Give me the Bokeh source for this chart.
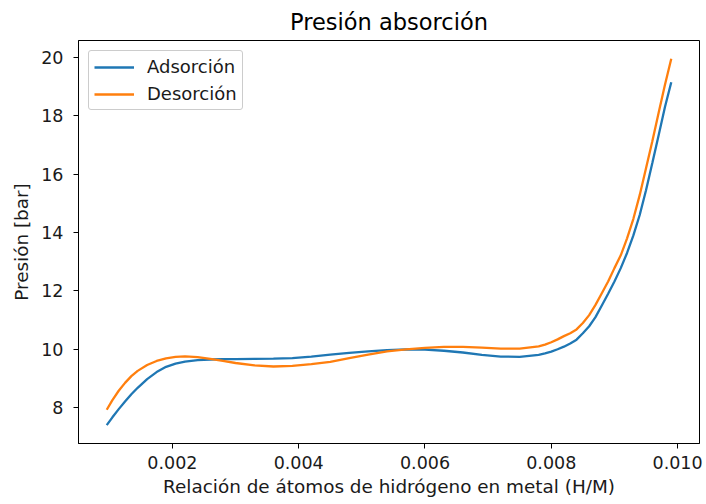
from bokeh.plotting import figure
from bokeh.models import FixedTicker, Range1d, Legend, LegendItem, ColumnDataSource, NumeralTickFormatter
from bokeh.embed import file_html
from bokeh.resources import INLINE

# Data
x_hm = [0.00096, 0.00105, 0.00115, 0.00125, 0.00135, 0.00145, 0.0016, 0.00175,
        0.0019, 0.00205, 0.0022, 0.0024, 0.0026, 0.0028, 0.0030, 0.0033, 0.0036,
        0.0039, 0.0042, 0.0045, 0.0048, 0.0051, 0.0054, 0.0057, 0.0060, 0.0063,
        0.0066, 0.0069, 0.0072, 0.0075, 0.0078, 0.0079, 0.0080, 0.0081, 0.0082,
        0.0083, 0.0084, 0.0085, 0.0086, 0.0087, 0.0088, 0.0089, 0.0090, 0.0091,
        0.0092, 0.0093, 0.0094, 0.0095, 0.0096, 0.0097, 0.0098, 0.0099]

adsorcion = [7.40, 7.67, 7.95, 8.21, 8.46, 8.68, 8.98, 9.22,
             9.40, 9.51, 9.58, 9.63, 9.65, 9.66, 9.66, 9.67, 9.68,
             9.70, 9.75, 9.82, 9.88, 9.93, 9.97, 10.00, 9.99, 9.95,
             9.89, 9.81, 9.75, 9.74, 9.81, 9.86, 9.92, 10.00, 10.09,
             10.20, 10.33, 10.55, 10.79, 11.10, 11.50, 11.90, 12.32, 12.78,
             13.30, 13.90, 14.60, 15.45, 16.38, 17.33, 18.30, 19.15]

desorcion = [7.93, 8.26, 8.58, 8.85, 9.08, 9.26, 9.46, 9.60,
             9.69, 9.74, 9.76, 9.73, 9.67, 9.60, 9.53, 9.45, 9.41,
             9.43, 9.49, 9.57, 9.70, 9.82, 9.93, 10.00, 10.05, 10.08,
             10.08, 10.06, 10.02, 10.02, 10.10, 10.16, 10.24, 10.34, 10.45,
             10.55, 10.68, 10.90, 11.17, 11.52, 11.92, 12.32, 12.78, 13.22,
             13.80, 14.47, 15.28, 16.20, 17.13, 18.10, 19.06, 19.95]

x_ticks = [0.002, 0.004, 0.006, 0.008, 0.010]
y_ticks = [8, 10, 12, 14, 16, 18, 20]

title_text = "Presión absorción"
x_label = "Relación de átomos de hidrógeno en metal (H/M)"
y_label = "Presión [bar]"
series_names = ["Adsorción", "Desorción"]
colors = ["#1f77b4", "#ff7f0e"]

FONT = "DejaVu Sans"

xmin, xmax = min(x_hm), max(x_hm)
allv = adsorcion + desorcion
ymin, ymax = min(allv), max(allv)
mx = 0.05 * (xmax - xmin)
my = 0.05 * (ymax - ymin)

p = figure(width=706, height=504, output_backend="svg", toolbar_location=None,
           x_range=Range1d(xmin - mx, xmax + mx), y_range=Range1d(ymin - my, ymax + my),
           frame_width=621, frame_height=403,
           min_border_left=78, min_border_right=7, min_border_top=39, min_border_bottom=62)
p.background_fill_color = "white"
p.border_fill_color = "white"
p.outline_line_color = "black"
p.outline_line_width = 1
p.grid.visible = False

p.title.text = title_text
p.title.align = "center"
p.title.text_font = FONT
p.title.text_font_size = "22.5px"
p.title.text_font_style = "normal"
p.title.text_color = "#000000"
p.title.standoff = 12

src = ColumnDataSource(dict(x=x_hm, a=adsorcion, d=desorcion))
r1 = p.line("x", "a", source=src, line_color=colors[0], line_width=2.3)
r2 = p.line("x", "d", source=src, line_color=colors[1], line_width=2.3)

for ax in (p.xaxis[0], p.yaxis[0]):
    ax.major_label_text_font = FONT
    ax.major_label_text_font_size = "17.5px"
    ax.major_label_text_color = "#1a1a1a"
    ax.axis_label_text_font = FONT
    ax.axis_label_text_font_size = "18.4px"
    ax.axis_label_text_font_style = "normal"
    ax.axis_label_text_color = "#1a1a1a"
    ax.major_tick_in = 0
    ax.major_tick_out = 5
    ax.minor_tick_in = 0
    ax.minor_tick_out = 0
    ax.axis_line_color = "black"
    ax.major_tick_line_color = "black"

p.xaxis.ticker = FixedTicker(ticks=x_ticks)
p.xaxis.formatter = NumeralTickFormatter(format="0.000")
p.yaxis.ticker = FixedTicker(ticks=y_ticks)
p.xaxis.axis_label = x_label
p.yaxis.axis_label = y_label
p.xaxis.major_label_standoff = 7
p.xaxis.axis_label_standoff = 4
p.yaxis.major_label_standoff = 10
p.yaxis.axis_label_standoff = 6

legend = Legend(items=[LegendItem(label=series_names[0], renderers=[r1]),
                       LegendItem(label=series_names[1], renderers=[r2])],
                location="top_left")
legend.label_text_font = FONT
legend.label_text_font_size = "18px"
legend.label_text_color = "#1a1a1a"
legend.label_height = 20
legend.glyph_width = 40
legend.glyph_height = 20
legend.label_standoff = 13
legend.spacing = 6
legend.padding = 5
legend.margin = 10
legend.border_line_color = "#cccccc"
legend.border_line_alpha = 1
legend.border_radius = 3
legend.background_fill_alpha = 0.8
p.add_layout(legend)

open("out.html", "w").write(file_html(p, INLINE))
